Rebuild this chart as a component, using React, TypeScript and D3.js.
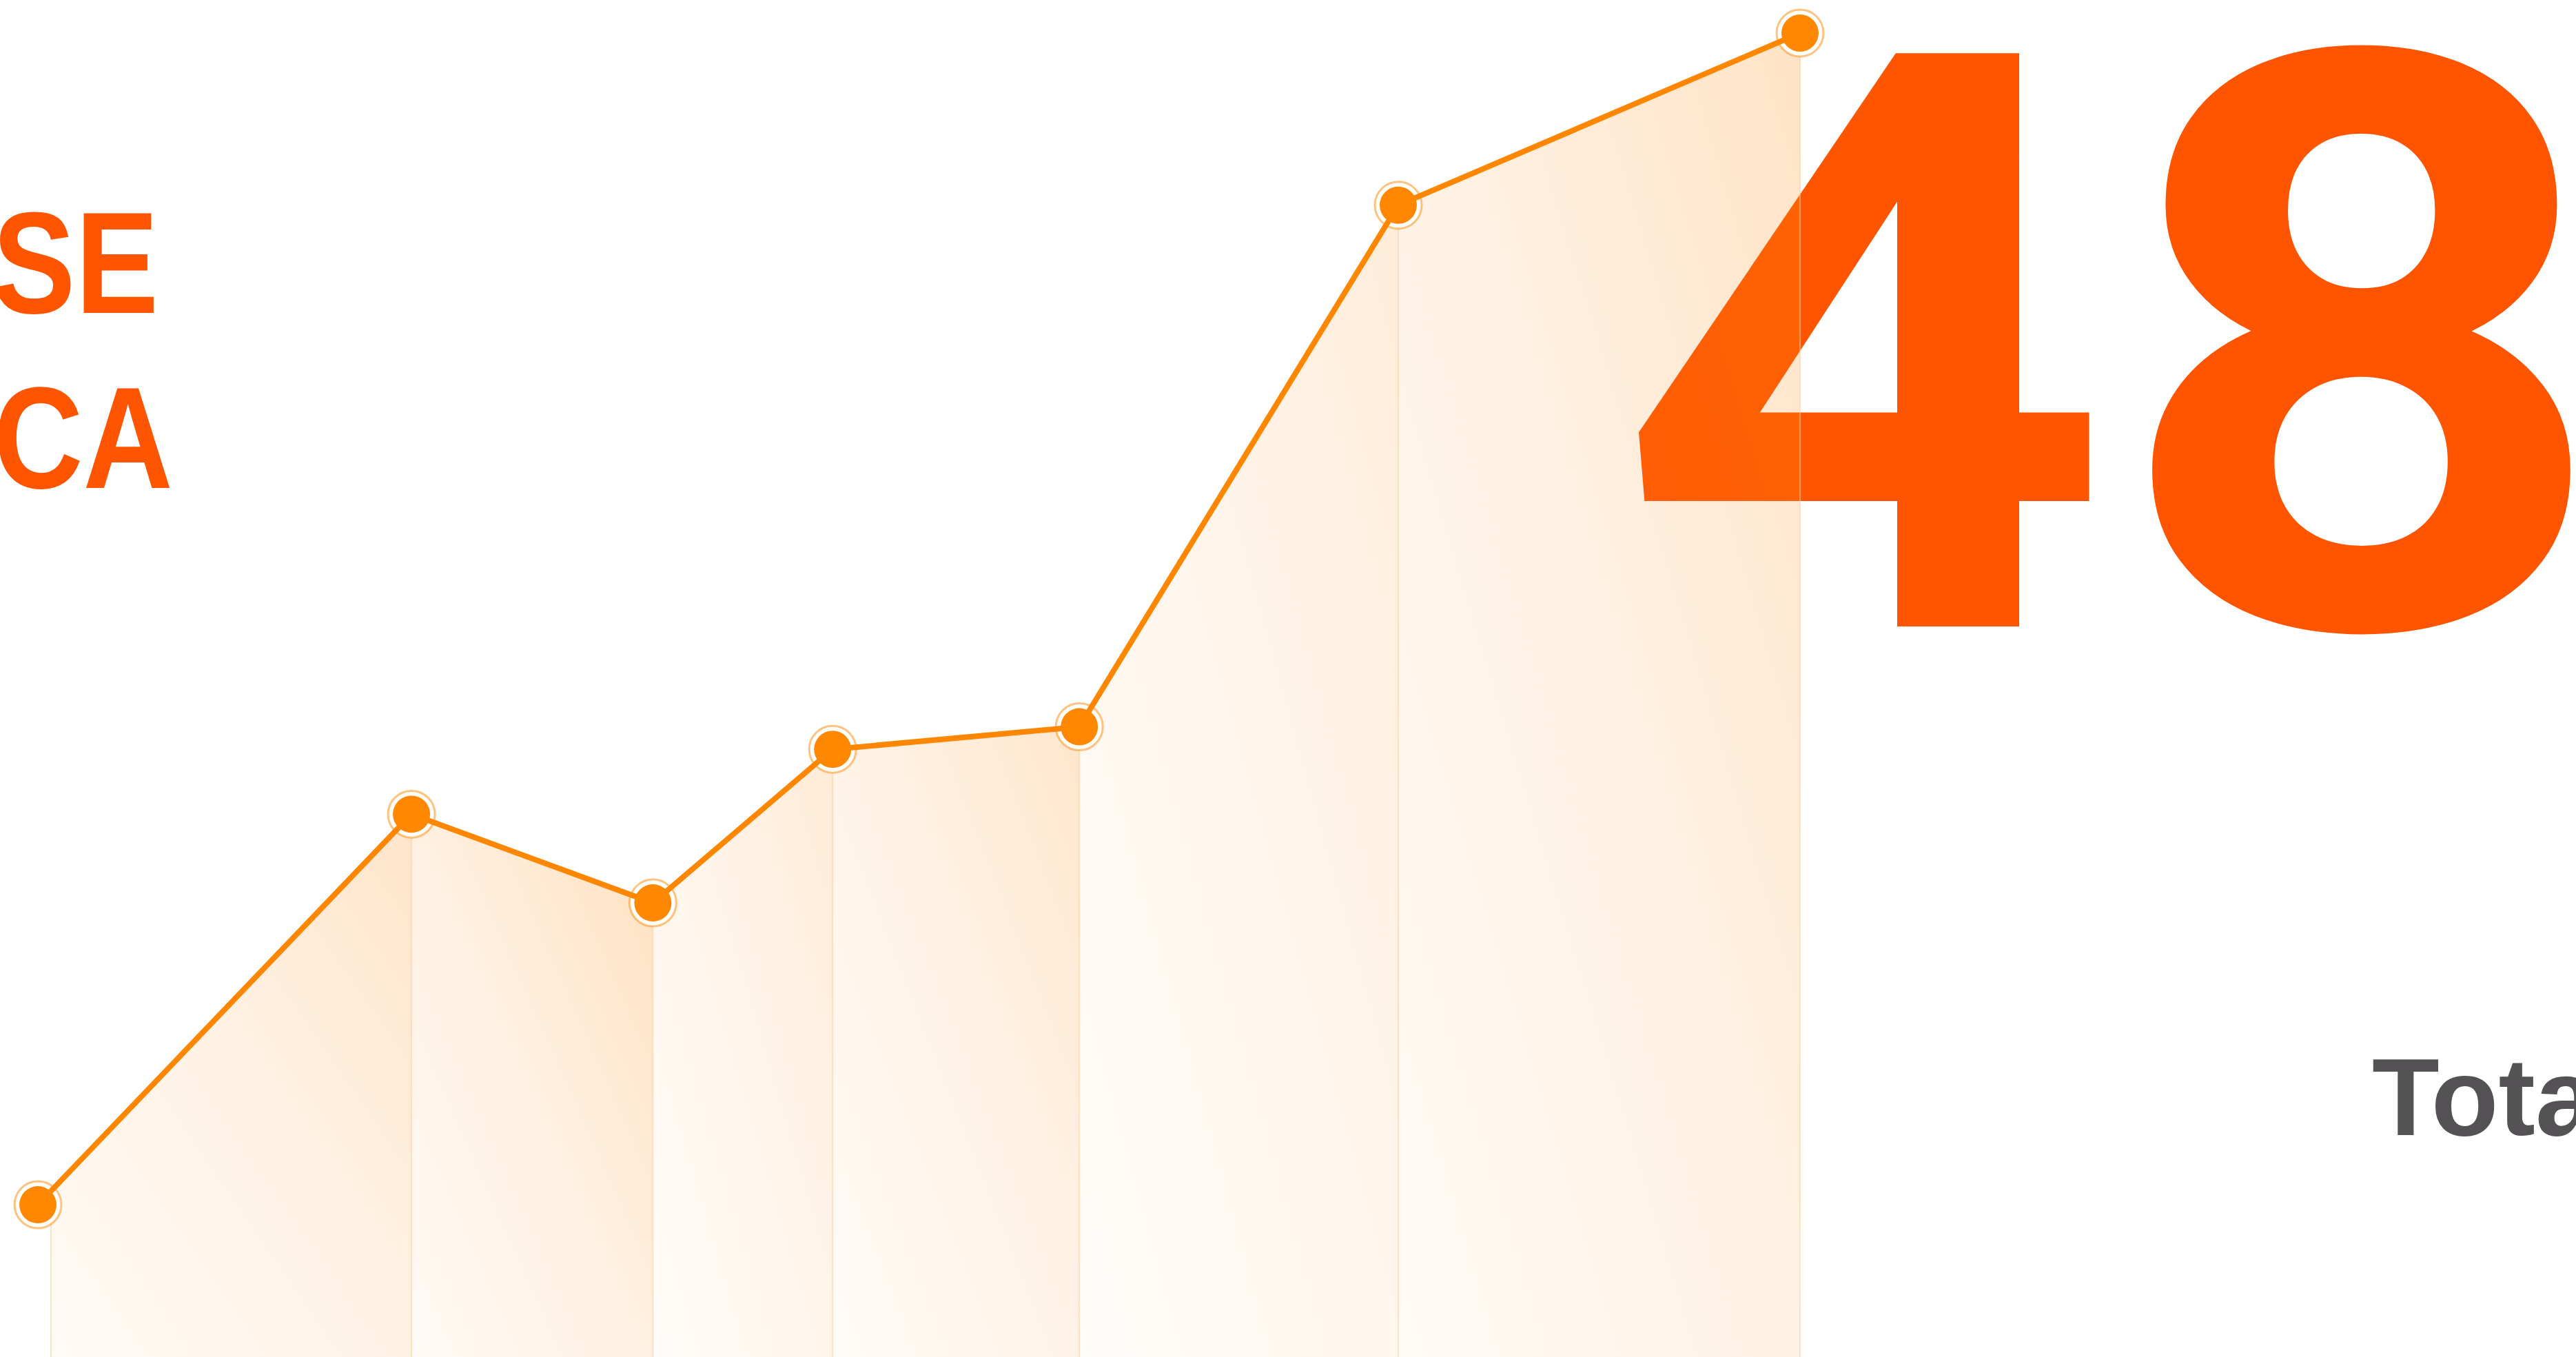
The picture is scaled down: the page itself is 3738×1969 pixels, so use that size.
import React from "react";
import * as d3 from "d3";

// ---- data ----
const pointX: number[] = [0, 21.2, 34.9, 45.1, 59.1, 77.2, 100];
const pointY: number[] = [11.5, 41.0, 34.3, 45.9, 47.6, 87.0, 100];
const bigValue = "48";
const bigLabel = "Total";
const leftWords: string[] = ["INCREASE", "AMERICA"];

// ---- styles ----
const W = 3738;
const H = 1969;
const stripStrength: number[] = [0.85, 1.0, 0.65, 0.8, 0.6, 0.9];
const lineColor = "#ff8700";
const textOrange = "#ff5500";

export default function App() {
  const x = d3.scaleLinear().domain([0, 100]).range([55, 2612]);
  const y = d3.scaleLinear().domain([0, 100]).range([1969, 48]);
  const pts = pointX.map((v, i) => [x(v), y(pointY[i])] as [number, number]);
  const line = d3.line<[number, number]>().x((d) => d[0]).y((d) => d[1]);
  const area = d3
    .area<[number, number]>()
    .x((d) => d[0])
    .y0(H)
    .y1((d) => d[1]);
  const clipLeft = x(0) + 18;

  return (
    <svg
      width={W}
      height={H}
      viewBox={`0 0 ${W} ${H}`}
      style={{ position: "absolute", left: 0, top: 0, background: "#fff" }}
    >
      <defs>
        {stripStrength.map((s, i) => (
          <linearGradient key={i} id={`g${i}`} x1="1" y1="0" x2="0" y2="1">
            <stop offset="0" stopColor="#ff8c16" stopOpacity={0.27 * s} />
            <stop offset="0.5" stopColor="#ff8c16" stopOpacity={0.13 * s} />
            <stop offset="1" stopColor="#ff8c16" stopOpacity={0.04 * s} />
          </linearGradient>
        ))}
        <clipPath id="areaClip">
          <rect x={clipLeft} y={0} width={W} height={H} />
        </clipPath>
      </defs>

      {/* left clipped words */}
      <g transform="translate(230,454) scale(0.86,1)">
        <text
          x={0}
          y={0}
          textAnchor="end"
          fontFamily="'Liberation Sans', Arial, sans-serif"
          fontWeight={700}
          fontSize={210}
          fill={textOrange}
        >
          {leftWords[0]}
        </text>
      </g>
      <g transform="translate(251,708) scale(0.86,1)">
        <text
          x={0}
          y={0}
          textAnchor="end"
          fontFamily="'Liberation Sans', Arial, sans-serif"
          fontWeight={700}
          fontSize={210}
          fill={textOrange}
        >
          {leftWords[1]}
        </text>
      </g>

      {/* big number */}
      <g transform="translate(2343,909) scale(1.076,1)">
        <text
          x={0}
          y={0}
          fontFamily="Roboto, sans-serif"
          fontWeight={700}
          fontSize={1170}
          fill={textOrange}
        >
          {bigValue}
        </text>
      </g>

      {/* label */}
      <text
        x={3442}
        y={1647}
        fontFamily="'Liberation Sans', Arial, sans-serif"
        fontWeight={700}
        fontSize={160}
        fill="#545254"
      >
        {bigLabel}
      </text>

      {/* area strips */}
      <g clipPath="url(#areaClip)">
        {pts.slice(0, -1).map((p, i) => (
          <path key={i} d={area([p, pts[i + 1]]) || ""} fill={`url(#g${i})`} />
        ))}
        {pts.map((p, i) => (
          <line
            key={i}
            x1={i === 0 ? clipLeft + 1 : p[0]}
            x2={i === 0 ? clipLeft + 1 : p[0]}
            y1={p[1]}
            y2={H}
            stroke="#fbcf9f"
            strokeOpacity={0.55}
            strokeWidth={2}
          />
        ))}
      </g>

      {/* ring halos */}
      {pts.map((p, i) => (
        <circle
          key={i}
          cx={p[0]}
          cy={p[1]}
          r={34}
          fill="#fff"
          stroke={lineColor}
          strokeOpacity={0.5}
          strokeWidth={3}
        />
      ))}

      {/* line */}
      <path d={line(pts) || ""} fill="none" stroke={lineColor} strokeWidth={8} />

      {/* dots */}
      {pts.map((p, i) => (
        <circle key={i} cx={p[0]} cy={p[1]} r={27} fill="#ff8800" />
      ))}
    </svg>
  );
}
